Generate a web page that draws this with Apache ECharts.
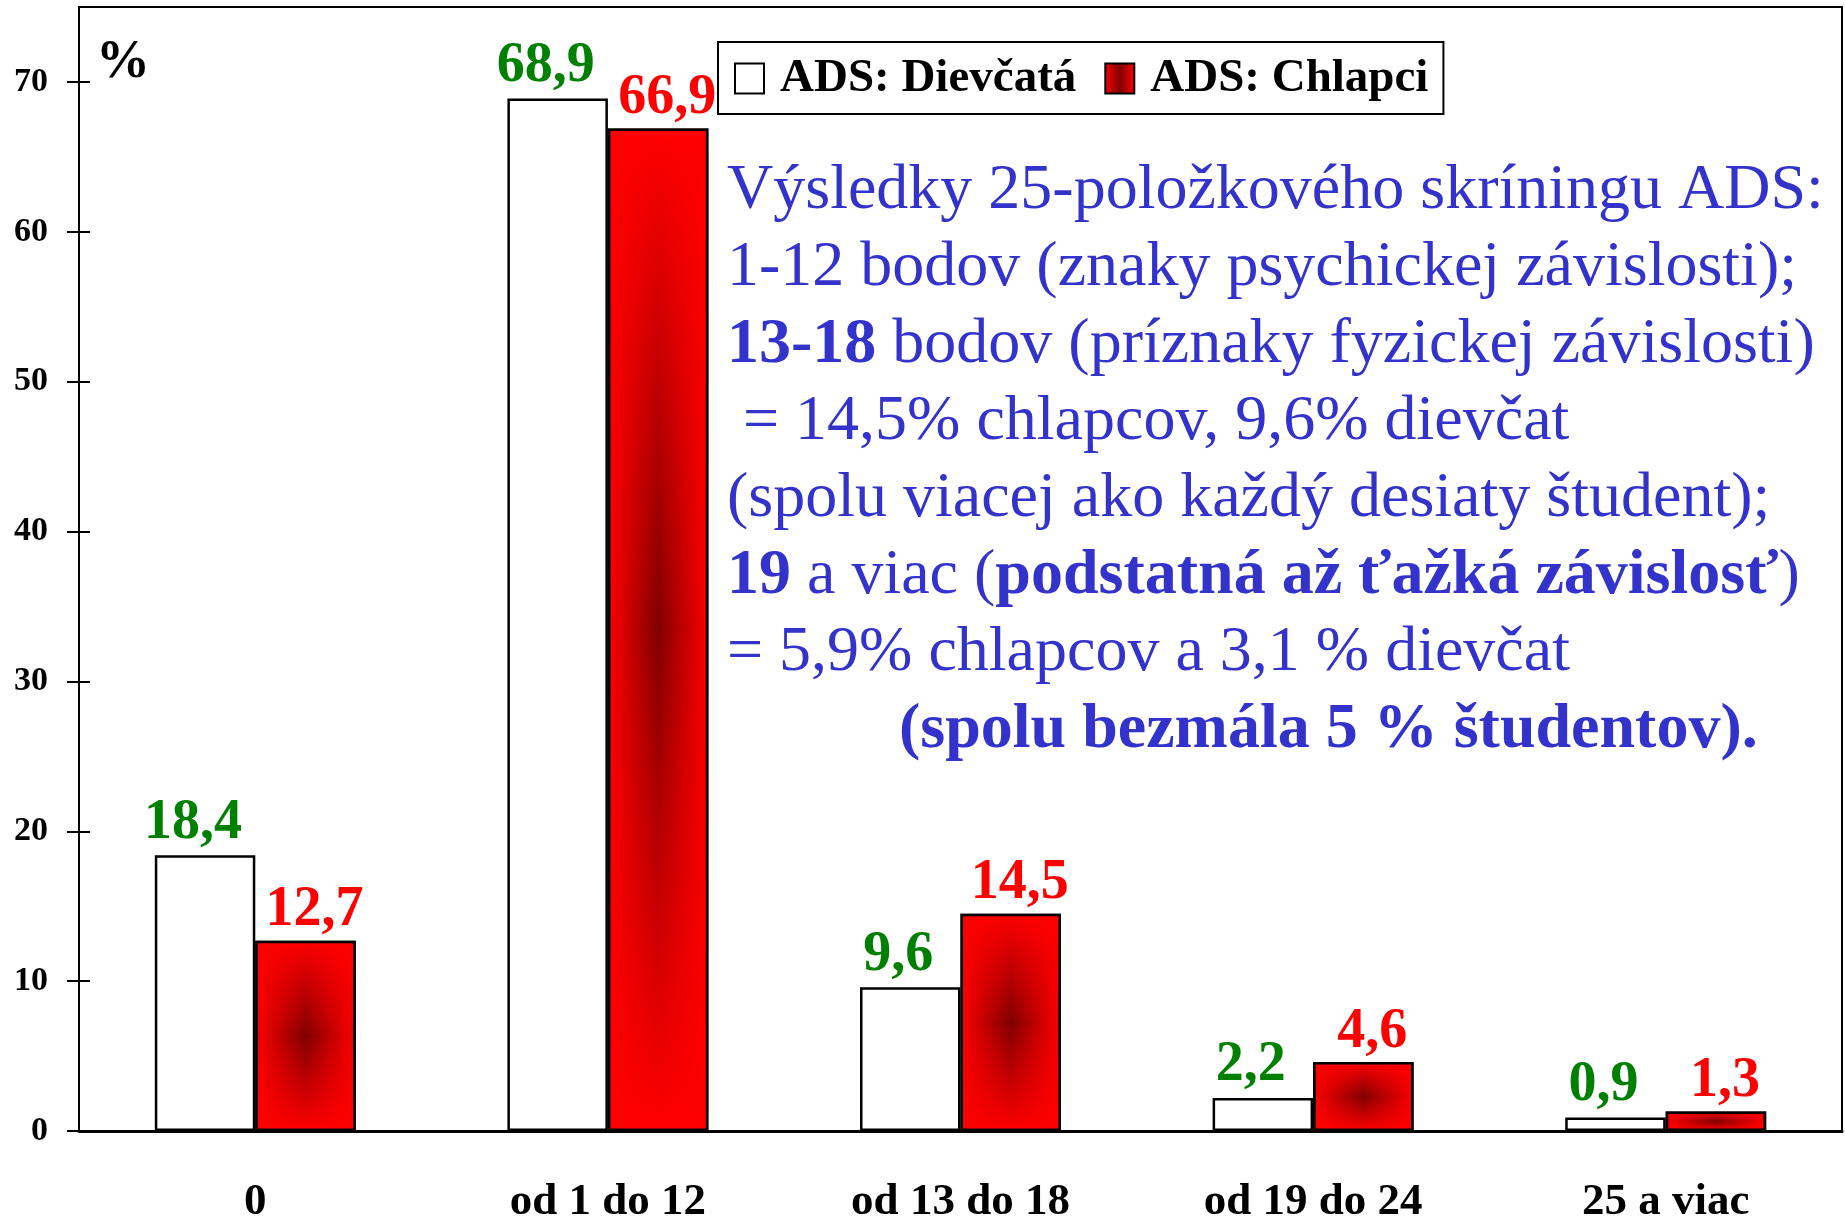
<!DOCTYPE html>
<html>
<head>
<meta charset="utf-8">
<script src="https://cdn.jsdelivr.net/npm/echarts@6/dist/echarts.min.js"></script>
<style>
html,body{margin:0;padding:0;background:#fff;}
#chart{width:1845px;height:1218px;}
</style>
</head>
<body>
<div id="chart"></div>
<script>
// skóre ADS (kategórie bodov)
var categories = ['0', 'od 1 do 12', 'od 13 do 18', 'od 19 do 24', '25 a viac'];
var girls = [18.4, 68.9, 9.6, 2.2, 0.9];
var boys = [12.7, 66.9, 14.5, 4.6, 1.3];
var yTicks = [0, 10, 20, 30, 40, 50, 60, 70];

var noteLines = [
	'Výsledky 25-položkového skríningu ADS:',
	'1-12 bodov (znaky psychickej závislosti);',
	'{b|13-18} bodov (príznaky fyzickej závislosti)',
	' = 14,5% chlapcov, 9,6% dievčat',
	'(spolu viacej ako každý desiaty študent);',
	'{b|19} a viac ({b|podstatná až ťažká závislosť})',
	'= 5,9% chlapcov a 3,1 % dievčat',
	'{bi|(spolu bezmála 5 % študentov).}'
];

var font = "'Liberation Serif', 'Times New Roman', serif";
var blue = '#3333cc';

function comma(p) {
	return String(p.value).replace('.', ',');
}

// horizontálny prechod + zvislá vrstva navrchu = "od stredu"
var redH = new echarts.graphic.LinearGradient(0, 0, 1, 0, [
	{offset: 0, color: '#ff0000'},
	{offset: 0.5, color: '#800000'},
	{offset: 1, color: '#ff0000'}
]);
var redV = new echarts.graphic.LinearGradient(0, 0, 0, 1, [
	{offset: 0, color: 'rgba(255,0,0,1)'},
	{offset: 0.5, color: 'rgba(255,0,0,0)'},
	{offset: 1, color: 'rgba(255,0,0,1)'}
]);

var catAxis = {
	type: 'category',
	data: categories,
	position: 'bottom'
};

var option = {
	animation: false,
	backgroundColor: '#fff',
	title: [
		{
			text: '%',
			left: 91,
			top: 31,
			textStyle: {fontFamily: font, fontSize: 54, fontWeight: 'bold', color: '#000'}
		},
		{
			text: noteLines.join('\n'),
			left: 722,
			top: 148,
			textStyle: {
				fontFamily: font, fontSize: 64, fontWeight: 'normal', color: blue, lineHeight: 77,
				rich: {
					b: {fontFamily: font, fontSize: 64, fontWeight: 'bold', color: blue, lineHeight: 77},
					bi: {fontFamily: font, fontSize: 64, fontWeight: 'bold', color: blue, lineHeight: 77, padding: [0, 0, 0, 172]}
				}
			}
		}
	],
	legend: {
		data: ['ADS: Dievčatá', 'ADS: Chlapci'],
		left: 718,
		top: 42,
		orient: 'horizontal',
		padding: [13, 15, 12, 16],
		itemWidth: 29,
		itemHeight: 30,
		itemGap: 28,
		icon: 'rect',
		selectedMode: false,
		borderColor: '#000',
		borderWidth: 2,
		textStyle: {fontFamily: font, fontSize: 47, fontWeight: 'bold', color: '#000', padding: [0, 0, 0, 11]}
	},
	grid: {
		left: 79,
		right: 3,
		top: 7,
		bottom: 87,
		outerBoundsMode: 'none',
		containLabel: false,
		show: true,
		borderColor: '#000',
		borderWidth: 2
	},
	xAxis: [
		Object.assign({}, catAxis, {
			axisLine: {lineStyle: {color: '#000', width: 3}},
			axisTick: {length: 14, lineStyle: {color: '#000', width: 2}},
			axisLabel: {fontFamily: font, fontSize: 45, fontWeight: 'bold', color: '#000', margin: 49}
		}),
		Object.assign({}, catAxis, {
			axisLine: {show: false},
			axisTick: {inside: true, length: 15, lineStyle: {color: '#000', width: 2}},
			axisLabel: {show: false}
		})
	],
	yAxis: [
		{
			type: 'value',
			min: 0,
			max: 75,
			interval: 10,
			splitLine: {show: false},
			axisLine: {show: true, lineStyle: {color: '#000', width: 2}},
			axisTick: {show: true, length: 12, customValues: yTicks, lineStyle: {color: '#000', width: 2}},
			axisLabel: {customValues: yTicks, fontFamily: font, fontSize: 34, fontWeight: 'bold', color: '#000', margin: 31}
		},
		{
			type: 'value',
			min: 0,
			max: 75,
			interval: 10,
			position: 'left',
			splitLine: {show: false},
			axisLine: {show: false},
			axisTick: {show: true, inside: true, length: 11, customValues: yTicks, lineStyle: {color: '#000', width: 2}},
			axisLabel: {show: false}
		}
	],
	series: [
		{
			name: 'ADS: Dievčatá',
			type: 'bar',
			xAxisIndex: 0,
			yAxisIndex: 0,
			data: girls,
			barGap: 0,
			barCategoryGap: '43%',
			itemStyle: {color: '#fff', borderColor: '#000', borderWidth: 2.5},
			label: {
				show: true, position: 'top', distance: 4, offset: [-12, 0],
				formatter: comma,
				fontFamily: font, fontSize: 56, fontWeight: 'bold', color: '#008000'
			}
		},
		{
			name: 'ADS: Chlapci',
			type: 'bar',
			xAxisIndex: 0,
			yAxisIndex: 0,
			data: boys,
			barGap: 0,
			barCategoryGap: '43%',
			itemStyle: {color: redH, borderColor: '#000', borderWidth: 2.5}
		},
		{
			name: 'spacer',
			type: 'bar',
			xAxisIndex: 1,
			yAxisIndex: 0,
			data: girls,
			barGap: 0,
			barCategoryGap: '43%',
			silent: true,
			itemStyle: {color: 'rgba(0,0,0,0)', borderWidth: 0}
		},
		{
			name: 'overlay',
			type: 'bar',
			xAxisIndex: 1,
			yAxisIndex: 0,
			data: boys,
			barGap: 0,
			barCategoryGap: '43%',
			silent: true,
			itemStyle: {color: redV, borderColor: '#000', borderWidth: 2.5},
			label: {
				show: true, position: 'top', distance: 2, offset: [9, 0],
				formatter: comma,
				fontFamily: font, fontSize: 56, fontWeight: 'bold', color: '#ff0000'
			}
		}
	]
};

var chart = echarts.init(document.getElementById('chart'), null, {renderer: 'canvas'});
chart.setOption(option);
</script>
</body>
</html>
